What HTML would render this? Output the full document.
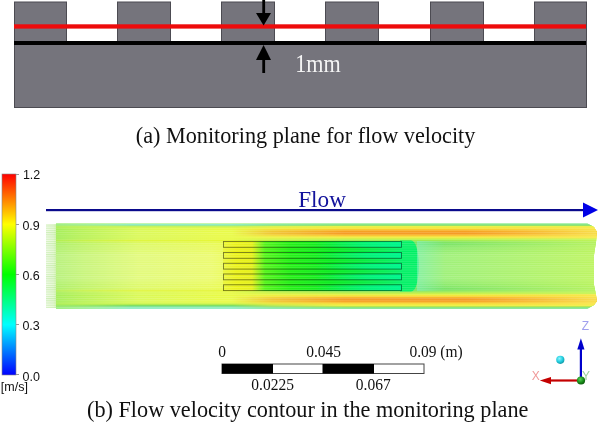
<!DOCTYPE html>
<html><head><meta charset="utf-8">
<style>
html,body{margin:0;padding:0;background:#fff;width:600px;height:422px;overflow:hidden}
svg{display:block;will-change:transform}
.serif{font-family:"Liberation Serif","Times New Roman",serif}
.sans{font-family:"Liberation Sans",Arial,sans-serif}
</style></head>
<body>
<svg width="600" height="422" viewBox="0 0 600 422">
<defs>
  <linearGradient id="cbar" x1="0" y1="0" x2="0" y2="1">
    <stop offset="0" stop-color="#ff0000"/>
    <stop offset="0.25" stop-color="#ffff00"/>
    <stop offset="0.5" stop-color="#00ff00"/>
    <stop offset="0.75" stop-color="#00ffff"/>
    <stop offset="1" stop-color="#0000ff"/>
  </linearGradient>
  <linearGradient id="hU" gradientUnits="userSpaceOnUse" x1="56" y1="0" x2="600" y2="0">
    <stop offset="0" stop-color="rgb(165,238,90)"/>
    <stop offset="0.05" stop-color="rgb(185,242,88)"/>
    <stop offset="0.15" stop-color="rgb(218,249,88)"/>
    <stop offset="0.3" stop-color="rgb(232,250,70)"/>
    <stop offset="1" stop-color="rgb(235,250,65)"/>
  </linearGradient>
  <linearGradient id="vU" gradientUnits="userSpaceOnUse" x1="0" y1="223.3" x2="0" y2="309.3">
    <stop offset="0.0000" stop-color="rgb(150,240,212)" stop-opacity="1"/>
    <stop offset="0.0174" stop-color="rgb(135,236,190)" stop-opacity="1"/>
    <stop offset="0.0291" stop-color="rgb(150,232,120)" stop-opacity="1"/>
    <stop offset="0.0407" stop-color="rgb(200,244,70)" stop-opacity="0.8"/>
    <stop offset="0.0663" stop-color="rgb(215,247,70)" stop-opacity="0"/>
    <stop offset="0.1802" stop-color="rgb(225,242,20)" stop-opacity="0"/>
    <stop offset="0.2035" stop-color="rgb(225,242,20)" stop-opacity="0.55"/>
    <stop offset="0.2267" stop-color="rgb(225,242,20)" stop-opacity="0"/>
    <stop offset="0.7593" stop-color="rgb(225,242,20)" stop-opacity="0"/>
    <stop offset="0.7826" stop-color="rgb(225,242,20)" stop-opacity="0.55"/>
    <stop offset="0.8058" stop-color="rgb(225,242,20)" stop-opacity="0"/>
    <stop offset="0.9151" stop-color="rgb(210,245,60)" stop-opacity="0"/>
    <stop offset="0.9384" stop-color="rgb(190,240,70)" stop-opacity="0.8"/>
    <stop offset="0.9558" stop-color="rgb(115,218,85)" stop-opacity="1"/>
    <stop offset="0.9709" stop-color="rgb(130,232,170)" stop-opacity="1"/>
    <stop offset="1.0000" stop-color="rgb(155,242,215)" stop-opacity="1"/>
  </linearGradient>
  <linearGradient id="vtop" gradientUnits="userSpaceOnUse" x1="0" y1="223.3" x2="0" y2="243.5">
    <stop offset="0.0000" stop-color="rgb(150,235,185)"/>
    <stop offset="0.0594" stop-color="rgb(130,228,130)"/>
    <stop offset="0.0990" stop-color="rgb(120,222,100)"/>
    <stop offset="0.1584" stop-color="rgb(232,240,60)"/>
    <stop offset="0.2475" stop-color="rgb(245,230,55)"/>
    <stop offset="0.3119" stop-color="rgb(250,200,40)"/>
    <stop offset="0.3812" stop-color="rgb(246,160,32)"/>
    <stop offset="0.5198" stop-color="rgb(245,150,30)"/>
    <stop offset="0.6040" stop-color="rgb(250,195,40)"/>
    <stop offset="0.6931" stop-color="rgb(242,238,60)"/>
    <stop offset="0.8020" stop-color="rgb(185,240,70)"/>
    <stop offset="0.9010" stop-color="rgb(135,230,90)"/>
    <stop offset="1.0000" stop-color="rgb(115,225,100)"/>
  </linearGradient>
  <linearGradient id="vbot" gradientUnits="userSpaceOnUse" x1="0" y1="309.2" x2="0" y2="289">
    <stop offset="-0.0000" stop-color="rgb(150,235,185)"/>
    <stop offset="0.0594" stop-color="rgb(130,228,130)"/>
    <stop offset="0.0990" stop-color="rgb(120,222,100)"/>
    <stop offset="0.1584" stop-color="rgb(232,240,60)"/>
    <stop offset="0.2475" stop-color="rgb(245,230,55)"/>
    <stop offset="0.3119" stop-color="rgb(250,200,40)"/>
    <stop offset="0.3812" stop-color="rgb(246,160,32)"/>
    <stop offset="0.5198" stop-color="rgb(245,150,30)"/>
    <stop offset="0.6040" stop-color="rgb(250,195,40)"/>
    <stop offset="0.6931" stop-color="rgb(242,238,60)"/>
    <stop offset="0.8020" stop-color="rgb(185,240,70)"/>
    <stop offset="0.9010" stop-color="rgb(135,230,90)"/>
    <stop offset="1.0000" stop-color="rgb(115,225,100)"/>
  </linearGradient>
  <linearGradient id="hfade" gradientUnits="userSpaceOnUse" x1="232" y1="0" x2="345" y2="0">
    <stop offset="0" stop-color="#fff" stop-opacity="0"/>
    <stop offset="0.35" stop-color="#fff" stop-opacity="0.55"/>
    <stop offset="1" stop-color="#fff" stop-opacity="1"/>
  </linearGradient>
  <linearGradient id="hfadeU" gradientUnits="userSpaceOnUse" x1="56" y1="0" x2="130" y2="0">
    <stop offset="0" stop-color="#fff" stop-opacity="0.35"/>
    <stop offset="1" stop-color="#fff" stop-opacity="1"/>
  </linearGradient>
  <mask id="mfadeU"><rect x="0" y="0" width="600" height="422" fill="url(#hfadeU)"/></mask>
  <mask id="mfade"><rect x="0" y="0" width="600" height="422" fill="url(#hfade)"/></mask>
  <linearGradient id="hF" gradientUnits="userSpaceOnUse" x1="223" y1="0" x2="601" y2="0">
    <stop offset="0.0000" stop-color="rgb(235,242,15)" stop-opacity="0.5"/>
    <stop offset="0.0344" stop-color="rgb(235,242,15)" stop-opacity="0.9"/>
    <stop offset="0.0767" stop-color="rgb(228,240,20)" stop-opacity="1"/>
    <stop offset="0.0926" stop-color="rgb(160,242,25)" stop-opacity="1"/>
    <stop offset="0.1111" stop-color="rgb(80,245,20)" stop-opacity="1"/>
    <stop offset="0.1772" stop-color="rgb(30,240,15)" stop-opacity="1"/>
    <stop offset="0.2831" stop-color="rgb(5,236,25)" stop-opacity="1"/>
    <stop offset="0.3624" stop-color="rgb(0,236,55)" stop-opacity="1"/>
    <stop offset="0.4709" stop-color="rgb(0,240,100)" stop-opacity="1"/>
    <stop offset="0.4722" stop-color="rgb(0,240,100)" stop-opacity="0"/>
    <stop offset="1.0000" stop-color="rgb(0,235,120)" stop-opacity="0"/>
  </linearGradient>
  <linearGradient id="hFin" gradientUnits="userSpaceOnUse" x1="315" y1="0" x2="401" y2="0">
    <stop offset="0" stop-color="rgb(0,248,150)" stop-opacity="0"/>
    <stop offset="0.6" stop-color="rgb(0,248,150)" stop-opacity="0.6"/>
    <stop offset="1" stop-color="rgb(0,248,150)" stop-opacity="0.8"/>
  </linearGradient>
  <linearGradient id="vD" gradientUnits="userSpaceOnUse" x1="0" y1="243" x2="0" y2="289.5">
    <stop offset="0" stop-color="rgb(110,225,95)"/>
    <stop offset="0.1" stop-color="rgb(140,234,110)"/>
    <stop offset="0.25" stop-color="rgb(158,240,122)"/>
    <stop offset="0.75" stop-color="rgb(158,240,122)"/>
    <stop offset="0.9" stop-color="rgb(140,234,110)"/>
    <stop offset="1" stop-color="rgb(110,225,95)"/>
  </linearGradient>
  <linearGradient id="hWk" gradientUnits="userSpaceOnUse" x1="417" y1="0" x2="445" y2="0">
    <stop offset="0" stop-color="rgb(120,240,185)" stop-opacity="0.6"/>
    <stop offset="1" stop-color="rgb(120,240,185)" stop-opacity="0"/>
  </linearGradient>
  <linearGradient id="hDy" gradientUnits="userSpaceOnUse" x1="440" y1="0" x2="597" y2="0">
    <stop offset="0" stop-color="rgb(200,246,90)" stop-opacity="0"/>
    <stop offset="1" stop-color="rgb(200,246,90)" stop-opacity="0.75"/>
  </linearGradient>
  <linearGradient id="hBy" gradientUnits="userSpaceOnUse" x1="465" y1="0" x2="597" y2="0">
    <stop offset="0" stop-color="rgb(250,215,60)" stop-opacity="0"/>
    <stop offset="1" stop-color="rgb(248,232,75)" stop-opacity="0.85"/>
  </linearGradient>
  <pattern id="rows" x="0" y="223.3" width="6" height="2.2" patternUnits="userSpaceOnUse">
    <rect x="0" y="0" width="6" height="1" fill="#fff" opacity="0.16"/>
  </pattern>
  <pattern id="srows" x="0" y="223.3" width="6" height="2.2" patternUnits="userSpaceOnUse">
    <rect x="0" y="0" width="6" height="1" fill="rgb(150,220,110)" opacity="0.35"/>
  </pattern>
  <linearGradient id="stubs" x1="0" y1="0" x2="1" y2="0">
    <stop offset="0" stop-color="rgb(240,250,232)"/>
    <stop offset="0.7" stop-color="rgb(232,248,215)"/>
    <stop offset="1" stop-color="rgb(215,245,180)"/>
  </linearGradient>
  <radialGradient id="sphG" cx="0.4" cy="0.35" r="0.65">
    <stop offset="0" stop-color="#5ad05a"/>
    <stop offset="0.6" stop-color="#1a8f1a"/>
    <stop offset="1" stop-color="#0b5a0b"/>
  </radialGradient>
  <radialGradient id="sphC" cx="0.4" cy="0.35" r="0.65">
    <stop offset="0" stop-color="#8ff4ff"/>
    <stop offset="0.6" stop-color="#22cfe0"/>
    <stop offset="1" stop-color="#129aa8"/>
  </radialGradient>
  <linearGradient id="vUw" gradientUnits="userSpaceOnUse" x1="0" y1="228" x2="0" y2="305">
    <stop offset="0" stop-color="#fff" stop-opacity="0"/>
    <stop offset="0.12" stop-color="#fff" stop-opacity="0"/>
    <stop offset="0.35" stop-color="#fff" stop-opacity="0.22"/>
    <stop offset="0.65" stop-color="#fff" stop-opacity="0.22"/>
    <stop offset="0.88" stop-color="#fff" stop-opacity="0"/>
    <stop offset="1" stop-color="#fff" stop-opacity="0"/>
  </linearGradient>
  <linearGradient id="hUwm" gradientUnits="userSpaceOnUse" x1="56" y1="0" x2="250" y2="0">
    <stop offset="0" stop-color="#fff" stop-opacity="1"/>
    <stop offset="0.8" stop-color="#fff" stop-opacity="1"/>
    <stop offset="1" stop-color="#fff" stop-opacity="0"/>
  </linearGradient>
  <mask id="mUw"><rect x="0" y="0" width="600" height="422" fill="url(#hUwm)"/></mask>
</defs>

<!-- ===== (a) geometry ===== -->
<g fill="#75747c" stroke="#4c4b52" stroke-width="1">
  <rect x="14.5" y="2" width="52" height="41.5"/>
  <rect x="117.5" y="2" width="53" height="41.5"/>
  <rect x="221.5" y="2" width="53" height="41.5"/>
  <rect x="325.5" y="2" width="53" height="41.5"/>
  <rect x="430.5" y="2" width="53" height="41.5"/>
  <rect x="534.5" y="2" width="52" height="41.5"/>
  <rect x="14.5" y="43.5" width="572" height="64"/>
</g>
<rect x="14" y="24.3" width="572" height="4.3" fill="#ee0b0b"/>
<rect x="14" y="41" width="572" height="4" fill="#000"/>
<!-- arrows -->
<rect x="262.3" y="0" width="2.8" height="14" fill="#000"/>
<polygon points="256,13 271,13 263.6,25.5" fill="#000"/>
<polygon points="263.6,45 256,60 271,60" fill="#000"/>
<rect x="262.3" y="59" width="2.8" height="14" fill="#000"/>
<text transform="translate(295.3,72) scale(1,1.09)" class="serif" font-size="22.15" fill="#f4f4f4">1mm</text>

<text transform="translate(135.86,142.75) scale(1,1.06)" class="serif" font-size="22.2" fill="#111">(a) Monitoring plane for flow velocity</text>

<!-- ===== (b) colour bar ===== -->
<rect x="2" y="174" width="14" height="201" fill="url(#cbar)"/>
<rect x="2" y="174" width="14" height="201" fill="none" stroke="#888" stroke-width="0.6"/>
<g stroke="#999" stroke-width="1">
  <line x1="16" y1="174.5" x2="19" y2="174.5"/>
  <line x1="16" y1="224.5" x2="19" y2="224.5"/>
  <line x1="16" y1="274.5" x2="19" y2="274.5"/>
  <line x1="16" y1="324.5" x2="19" y2="324.5"/>
  <line x1="16" y1="374.5" x2="19" y2="374.5"/>
</g>
<g class="sans" font-size="12.5" fill="#111">
  <text x="22.9" y="179">1.2</text>
  <text x="22.4" y="229.6">0.9</text>
  <text x="22.4" y="279.8">0.6</text>
  <text x="22.4" y="329.9">0.3</text>
  <text x="22.5" y="380.6">0.0</text>
  <text x="0.8" y="391.1">[m/s]</text>
</g>

<!-- flow arrow -->
<rect x="46" y="209" width="540" height="2.2" fill="#0a0a8c"/>
<polygon points="583,202.5 583,217.5 598,210" fill="#0000e6"/>
<text transform="translate(298.2,207) scale(1,1.0)" class="serif" font-size="23.2" fill="#12129c">Flow</text>

<!-- ===== contour ===== -->
<clipPath id="cclip"><path d="M56,223.3 H587 L594,227 L597,232 L596,242 L594,255 L594,285 L596,295 L597,301 L594,305 L587,309 H56 Z"/></clipPath>
<rect x="46" y="224" width="10.5" height="84" fill="url(#stubs)"/>
<rect x="46" y="224" width="10.5" height="84" fill="url(#srows)"/>
<g clip-path="url(#cclip)">
  <rect x="56" y="223" width="545" height="87" fill="url(#hU)"/>
  <rect x="56" y="223.3" width="545" height="86" fill="url(#vU)" mask="url(#mfadeU)"/>
  <rect x="56" y="228" width="200" height="77" fill="url(#vUw)" mask="url(#mUw)"/>
  <g mask="url(#mfade)">
    <rect x="200" y="223.3" width="400" height="20.2" fill="url(#vtop)"/>
    <rect x="200" y="289" width="400" height="20.2" fill="url(#vbot)"/>
  </g>
  <rect x="223" y="241" width="378" height="50" fill="url(#hF)"/>
  <rect x="401" y="243" width="200" height="46.5" fill="url(#vD)"/>
  <rect x="401" y="238" width="200" height="56.5" fill="url(#hDy)"/>
  <rect x="418" y="227" width="183" height="11.5" fill="url(#hBy)"/>
  <rect x="418" y="294" width="183" height="11.5" fill="url(#hBy)"/>
  <path d="M400,240.5 H411 C416,241 418.5,250 418.7,266 C418.5,282 416,291 411,291.5 H400 Z" fill="rgb(0,240,100)"/>
  <rect x="417" y="241" width="28" height="50" fill="url(#hWk)"/>
  <rect x="56" y="223" width="545" height="87" fill="url(#rows)"/>
</g>
<!-- fins in contour -->
<g fill="url(#hFin)" stroke="#000" stroke-width="0.9" stroke-opacity="0.5">
  <rect x="223.5" y="241.5" width="178" height="5.8"/>
  <rect x="223.5" y="252.5" width="178" height="5.8"/>
  <rect x="223.5" y="263.3" width="178" height="5.8"/>
  <rect x="223.5" y="274" width="178" height="5.8"/>
  <rect x="223.5" y="284.8" width="178" height="5.8"/>
</g>

<!-- scale bar -->
<rect x="222" y="364" width="202" height="9.5" fill="#fff" stroke="#444" stroke-width="1"/>
<rect x="222" y="364" width="51" height="9.5" fill="#000"/>
<rect x="322.5" y="364" width="51.5" height="9.5" fill="#000"/>
<g class="serif" font-size="15.5" fill="#111">
  <text transform="translate(218.28,357.4) scale(1,1.06)">0</text>
  <text transform="translate(306.13,357.4) scale(1,1.06)">0.045</text>
  <text transform="translate(409.38,357.4) scale(1,1.06)">0.09 (m)</text>
  <text transform="translate(251.28,389.8) scale(1,1.06)">0.0225</text>
  <text transform="translate(355.78,389.8) scale(1,1.06)">0.067</text>
</g>

<!-- axis triad -->
<line x1="549" y1="380.5" x2="581" y2="380.5" stroke="#c40000" stroke-width="2.2"/>
<polygon points="539.8,380.6 551,376.9 551,384.3" fill="#c40000"/>
<line x1="580.9" y1="381" x2="580.9" y2="348" stroke="#0000cc" stroke-width="2.2"/>
<polygon points="580.9,338.2 577.3,349.6 584.5,349.6" fill="#0000cc"/>
<circle cx="581" cy="380.5" r="4.1" fill="url(#sphG)"/>
<circle cx="560.3" cy="359.8" r="4.1" fill="url(#sphC)"/>
<g class="sans" font-size="12" font-weight="normal">
  <text x="581.8" y="329.6" fill="#a0a0ee" transform="translate(0,0)">Z</text>
  <text x="531.8" y="379.9" fill="#f09a9a">X</text>
  <text x="582" y="380" fill="#9ad09a">Y</text>
</g>

<text transform="translate(87,417.3) scale(1,1.06)" class="serif" font-size="22.24" fill="#111">(b) Flow velocity contour in the monitoring plane</text>
</svg>
</body></html>
